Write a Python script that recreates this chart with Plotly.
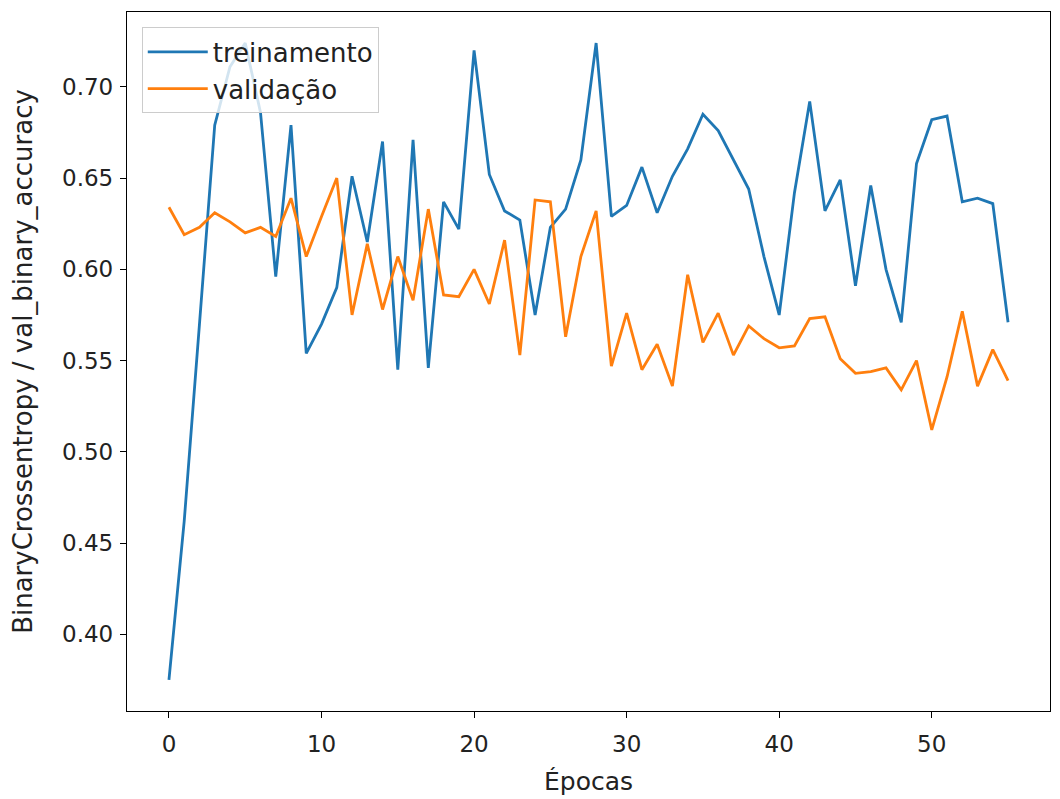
import plotly.graph_objects as go

epochs = list(range(56))

treinamento = [
    0.375, 0.462, 0.570, 0.679, 0.711, 0.724, 0.686, 0.596, 0.679, 0.554,
    0.570, 0.590, 0.651, 0.615, 0.670, 0.545, 0.671, 0.546, 0.637, 0.622,
    0.720, 0.652, 0.632, 0.627, 0.575, 0.623, 0.633, 0.660, 0.724, 0.629,
    0.635, 0.656, 0.631, 0.651, 0.666, 0.685, 0.676, 0.660, 0.644, 0.607,
    0.575, 0.642, 0.692, 0.632, 0.649, 0.591, 0.646, 0.600, 0.571, 0.658,
    0.682, 0.684, 0.637, 0.639, 0.636, 0.571,
]

validacao = [
    0.634, 0.619, 0.623, 0.631, 0.626, 0.620, 0.623, 0.618, 0.639, 0.607,
    0.629, 0.650, 0.575, 0.614, 0.578, 0.607, 0.583, 0.633, 0.586, 0.585,
    0.600, 0.581, 0.616, 0.553, 0.638, 0.637, 0.563, 0.607, 0.632, 0.547,
    0.576, 0.545, 0.559, 0.536, 0.597, 0.560, 0.576, 0.553, 0.569, 0.562,
    0.557, 0.558, 0.573, 0.574, 0.551, 0.543, 0.544, 0.546, 0.534, 0.550,
    0.512, 0.541, 0.577, 0.536, 0.556, 0.539,
]

y_ticks = [0.40, 0.45, 0.50, 0.55, 0.60, 0.65, 0.70]
x_ticks = [0, 10, 20, 30, 40, 50]

FONT = "DejaVu Sans"

fig = go.Figure()
fig.add_trace(go.Scatter(x=epochs, y=treinamento, mode="lines", name="treinamento",
                         line=dict(color="#1f77b4", width=2.8)))
fig.add_trace(go.Scatter(x=epochs, y=validacao, mode="lines", name="validação",
                         line=dict(color="#ff7f0e", width=2.8)))

axis_common = dict(
    showgrid=False, zeroline=False, showline=True, linecolor="black", linewidth=1.3,
    mirror=True, ticks="outside", ticklen=6, tickwidth=1.3, tickcolor="black",
    tickfont=dict(family=FONT, size=23, color="#222222"), automargin=False,
)

fig.update_layout(
    width=1052, height=791,
    margin=dict(l=119, r=10, t=4, b=88),
    paper_bgcolor="white", plot_bgcolor="white",
    font=dict(family=FONT, color="#222222"),
    xaxis=dict(range=[-2.75, 57.75], tickvals=x_ticks, ticklabelstandoff=6,
               title=dict(text="Épocas", font=dict(family=FONT, size=25), standoff=16),
               **axis_common),
    yaxis=dict(range=[0.358, 0.741], tickvals=y_ticks, tickformat=".2f",
               ticklabelstandoff=2,
               title=dict(text="BinaryCrossentropy / val_binary_accuracy",
                          font=dict(family=FONT, size=26), standoff=22),
               **axis_common),
    legend=dict(x=0.016, y=0.978, xanchor="left", yanchor="top",
                bgcolor="rgba(255,255,255,0.8)", bordercolor="#cccccc", borderwidth=1,
                font=dict(family=FONT, size=26, color="#222222"),
                itemwidth=60, tracegroupgap=0),
    showlegend=True,
)

fig.write_html("out.html")
